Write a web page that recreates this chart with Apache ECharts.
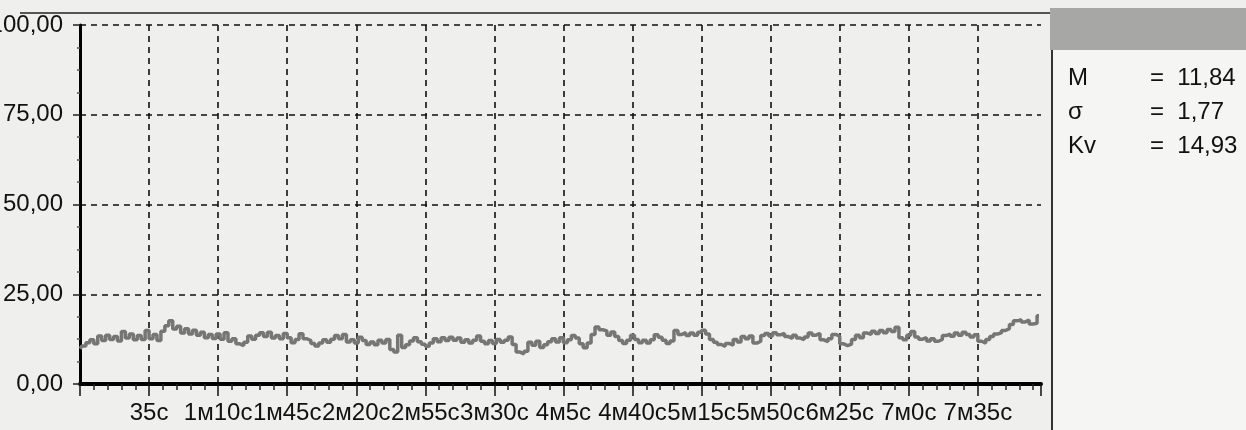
<!DOCTYPE html>
<html><head><meta charset="utf-8">
<script src="https://cdn.jsdelivr.net/npm/echarts@6/dist/echarts.min.js"></script>
<style>html,body{margin:0;padding:0;background:#efefed;}#c{width:1246px;height:430px;}</style>
</head><body><div id="c"></div>
<script>
// sample spacing of the trace, seconds
const sampleStep = 2;
// trace values, 0 s .. 486 s
const trace1 = [9.8,10.6,11.5,12.3,11.2,13.4,12.1,13.6,12.4,13.2,12.0,14.6,12.8,13.9,12.3,13.5,12.4,14.9,12.6,13.8,12.1,14.7,16.2,17.6,15.3,16.1,14.2,15.4,13.9,15.0,13.6,14.4,12.9,13.8,12.7,13.9,12.5,14.3,11.9,12.6,11.2,10.7,11.6,13.4,12.5,13.6,14.3,13.2,14.4];
const trace2 = [12.8,13.5,12.6,14.1,12.9,11.5,12.4,14.0,12.6,12.1,11.3,10.6,11.4,12.3,11.6,12.5,13.5,12.6,13.8,11.7,12.3,11.4,13.0,12.1,11.0,11.7,10.9,12.2,11.4,12.4,9.6,8.9,13.6,10.2,10.9,12.0,12.9,11.8,11.1,10.5,11.4,12.6,11.8,12.9,12.1,13.0,12.2,12.8];
const trace3 = [11.6,12.3,11.4,12.2,13.4,11.9,11.2,12.1,11.3,12.4,11.6,12.2,13.1,11.0,8.9,8.4,9.1,11.6,10.8,11.9,10.2,10.9,11.8,12.6,11.7,12.9,11.5,12.3,13.5,12.8,11.2,10.1,11.4,13.8,15.9,15.1,14.8,13.6,14.5,13.2,12.1,11.3,12.2,13.6,12.4,11.5,12.2,11.4,12.3];
const trace4 = [13.7,13.0,12.2,11.3,12.0,14.9,13.8,14.3,13.5,14.2,13.6,14.4,15.0,13.9,12.4,11.6,11.0,10.5,11.3,10.8,12.4,11.7,13.2,12.6,13.4,11.4,11.9,13.5,14.1,13.4,14.3,13.7,14.1,13.2,12.7,13.6,12.8,12.4,13.1,14.2,13.6,14.1,12.3,11.8,12.6,13.8,13.3,11.2,10.7];
const trace5 = [11.1,12.4,13.6,12.9,14.2,13.8,14.7,14.1,14.9,14.3,15.2,14.6,15.8,12.9,12.3,13.6,14.6,13.1,12.5,12.9,12.0,12.6,11.9,12.4,13.5,13.9,13.3,14.2,13.6,14.4,13.8,13.1,13.7,11.9,11.4,12.4,13.2,13.9,14.3,14.9,15.4,16.6,17.6,17.9,17.3,17.8,16.7,16.9,19.0];

const duration = 487;
const tickStep = 35;
const tickLabels = ['35с','1м10с','1м45с','2м20с','2м55с','3м30с','4м5с','4м40с','5м15с','5м50с','6м25с','7м0с','7м35с'];
const yTicks = [0,25,50,75,100];
const yLabels = ['0,00','25,00','50,00','75,00','100,00'];
const statNames = ['M','σ','Kv'];
const statValues = ['11,84','1,77','14,93'];

const values = trace1.concat(trace2, trace3, trace4, trace5);
const data = values.map((v, i) => [i * sampleStep, v]);

const FONT = '"Liberation Sans", Arial, sans-serif';
const chart = echarts.init(document.getElementById('c'), null, {renderer: 'canvas'});

const rowY = [78, 112, 146];
const panel = [
  {type: 'rect', shape: {x: 1052, y: 50, width: 194, height: 380}, style: {fill: '#f5f5f3'}, z: 0},
  {type: 'rect', shape: {x: 1050, y: 8, width: 196, height: 42}, style: {fill: '#a7a7a5'}, z: 1},
  {type: 'line', shape: {x1: 1052, y1: 50, x2: 1052, y2: 430}, style: {stroke: '#333', lineWidth: 2}, z: 2},
  {type: 'line', shape: {x1: 20, y1: 13, x2: 1050, y2: 13}, style: {stroke: '#555', lineWidth: 2}, z: 2}
];
statNames.forEach((n, i) => {
  panel.push({type: 'text', x: 1068, y: rowY[i], style: {text: n, fill: '#111', fontSize: 24, fontFamily: FONT, verticalAlign: 'middle'}, z: 3});
  panel.push({type: 'text', x: 1150, y: rowY[i], style: {text: '=  ' + statValues[i], fill: '#111', fontSize: 24, fontFamily: FONT, verticalAlign: 'middle'}, z: 3});
});

chart.setOption({
  animation: false,
  backgroundColor: '#efefed',
  grid: {left: 80, top: 25, right: 205, bottom: 46, containLabel: false, outerBoundsMode: 'none'},
  xAxis: {
    type: 'value', min: 0, max: duration, interval: tickStep,
    axisLine: {show: true, lineStyle: {color: '#000', width: 4}},
    axisTick: {show: true, length: 12, lineStyle: {color: '#111', width: 1.5}},
    minorTick: {show: true, splitNumber: 5, length: 6, lineStyle: {color: '#222', width: 1.5}},
    axisLabel: {
      margin: 17, fontSize: 24, color: '#111', fontFamily: FONT,
      formatter: function (v) {
        const i = Math.round(v / tickStep);
        if (v > 0 && Math.abs(v - i * tickStep) < 1e-6 && i <= tickLabels.length) return tickLabels[i - 1];
        return '';
      }
    },
    splitLine: {show: true, showMaxLine: false, showMinLine: false, lineStyle: {color: '#111', type: [6, 5], width: 1.6}}
  },
  yAxis: {
    type: 'value', min: 0, max: 100, interval: 25,
    axisLine: {show: true, lineStyle: {color: '#000', width: 3}},
    axisTick: {show: true, length: 7, lineStyle: {color: '#222', width: 1.5}},
    minorTick: {show: true, splitNumber: 4, length: 3, lineStyle: {color: '#555', width: 1.5}},
    axisLabel: {
      margin: 17, fontSize: 24, color: '#111', fontFamily: FONT,
      formatter: function (v) { const k = yTicks.indexOf(v); return k >= 0 ? yLabels[k] : ''; }
    },
    splitLine: {show: true, showMinLine: false, lineStyle: {color: '#111', type: [6, 5], width: 1.6}}
  },
  series: [{
    type: 'line', data: data, step: 'middle', symbol: 'none', showSymbol: false,
    lineStyle: {color: '#767676', width: 3.5}, z: 3
  }],
  graphic: panel
});
</script></body></html>
